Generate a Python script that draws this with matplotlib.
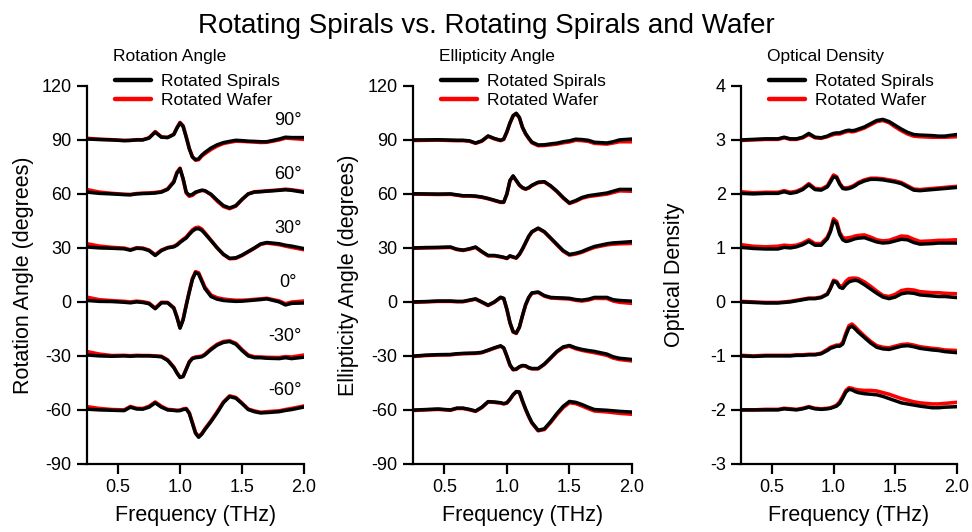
import numpy as np
import matplotlib.pyplot as plt

plt.rcParams['font.family'] = ['Liberation Sans', 'DejaVu Sans']
plt.rcParams['axes.unicode_minus'] = False

freq = [0.25, 0.35, 0.45, 0.55, 0.6, 0.65, 0.7, 0.75, 0.8, 0.85,
        0.9, 0.95, 0.975, 1.0, 1.025, 1.05, 1.075, 1.1, 1.125, 1.15,
        1.175, 1.2, 1.25, 1.3, 1.35, 1.4, 1.45, 1.5, 1.55, 1.6,
        1.65, 1.7, 1.8, 1.85, 1.9, 2.0]

# rotation angle (degrees), curves offset by the rotation
rot_90_spirals = [90.5, 90.2, 90.0, 89.6, 89.7, 90.0, 90.0, 91.0, 94.3, 91.5,
                  91.3, 93.0, 96.5, 99.4, 97.5, 91.5, 85.0, 80.5, 79.0, 79.5,
                  81.5, 83.0, 85.5, 87.3, 88.5, 89.2, 89.8, 89.6, 89.3, 89.2,
                  89.0, 89.0, 90.5, 91.5, 91.3, 91.3]
rot_90_wafer = [90.9, 90.4, 90.1, 89.7, 89.8, 90.1, 90.1, 91.2, 94.6, 91.7,
                91.4, 93.2, 96.8, 99.7, 97.8, 91.8, 85.3, 80.6, 78.8, 79.0,
                81.0, 82.3, 84.7, 86.6, 88.0, 88.7, 89.3, 89.2, 89.0, 88.8,
                88.6, 88.7, 90.0, 91.0, 90.8, 90.3]
rot_60_spirals = [61.0, 60.3, 60.0, 59.6, 59.5, 60.0, 60.2, 60.3, 60.5, 61.0,
                  62.5, 66.5, 71.5, 74.0, 68.5, 61.0, 59.2, 59.8, 61.0, 61.5,
                  62.0, 61.8, 59.8, 56.5, 53.5, 52.2, 53.5, 57.0, 60.0, 61.0,
                  61.2, 61.5, 62.0, 62.3, 62.0, 60.9]
rot_60_wafer = [62.4, 61.0, 60.3, 59.8, 59.7, 60.2, 60.4, 60.5, 60.8, 61.3,
                62.8, 67.0, 72.0, 74.3, 68.0, 60.5, 58.7, 59.2, 60.6, 61.4,
                62.0, 61.8, 59.5, 56.0, 53.0, 51.8, 53.2, 56.8, 60.0, 61.2,
                61.4, 61.7, 62.2, 62.6, 62.3, 61.3]
rot_30_spirals = [30.5, 30.0, 29.8, 29.5, 28.7, 29.8, 29.6, 28.5, 25.8, 28.5,
                  30.0, 30.6, 31.5, 33.0, 34.3, 35.5, 37.5, 39.3, 40.5, 40.7,
                  39.8, 38.0, 34.0, 30.0, 26.5, 24.2, 24.5, 26.0, 28.0, 30.0,
                  32.2, 33.0, 32.3, 31.5, 31.0, 29.6]
rot_30_wafer = [32.3, 31.0, 30.3, 29.9, 29.0, 30.1, 29.9, 28.8, 26.2, 28.8,
                30.2, 30.9, 31.9, 33.4, 34.8, 36.0, 38.1, 40.0, 41.2, 41.5,
                40.5, 38.5, 34.3, 30.0, 26.3, 24.0, 24.2, 25.8, 27.8, 29.8,
                32.0, 32.7, 31.8, 31.0, 30.3, 29.0]
rot_0_spirals = [0.8, 0.3, 0.2, -0.2, -0.5, 0.0, -0.3, -1.0, -3.8, -0.5,
                 -0.5, -3.5, -8.5, -14.6, -10.0, -2.0, 5.5, 12.5, 16.3, 15.5,
                 11.5, 7.5, 3.0, 1.5, 0.8, 0.5, 0.3, 0.4, 0.7, 1.0,
                 1.3, 1.7, 0.0, -1.7, -0.8, -0.6]
rot_0_wafer = [2.6, 1.2, 0.7, 0.3, 0.0, 0.4, 0.1, -0.6, -3.4, -0.2,
               -0.3, -3.2, -8.2, -14.2, -9.6, -1.6, 6.0, 13.0, 16.8, 16.2,
               12.3, 8.3, 3.8, 2.3, 1.6, 1.2, 0.9, 0.9, 1.1, 1.4,
               1.7, 2.0, 0.5, -1.0, -0.1, 0.5]
rot_m30_spirals = [-29.5, -30.0, -30.2, -30.0, -30.2, -30.0, -30.0, -30.0, -30.2, -30.5,
                   -32.5, -36.5, -39.5, -42.0, -41.5, -37.5, -33.5, -31.5, -31.0, -30.8,
                   -30.5, -29.5, -26.5, -24.0, -22.5, -22.0, -23.5, -27.0, -30.0, -31.0,
                   -31.0, -31.3, -31.5, -31.0, -31.5, -30.7]
rot_m30_wafer = [-27.6, -29.0, -29.8, -29.7, -29.9, -29.7, -29.8, -29.8, -30.0, -30.2,
                 -32.2, -36.2, -39.3, -41.8, -41.3, -37.2, -33.2, -31.2, -30.6, -30.4,
                 -30.1, -29.1, -26.0, -23.5, -22.0, -21.6, -23.0, -26.5, -29.5, -30.5,
                 -30.6, -30.8, -30.9, -30.4, -30.6, -29.5]
rot_m60_spirals = [-59.6, -60.0, -60.2, -60.4, -58.5, -59.5, -59.6, -58.5, -56.1, -58.5,
                   -60.0, -60.3, -60.5, -60.4, -59.8, -59.5, -62.0, -67.5, -73.0, -75.2,
                   -73.5, -71.0, -66.5, -61.5, -56.0, -52.6, -53.5, -56.5, -59.8, -61.0,
                   -61.7, -61.5, -61.0, -60.3, -59.8, -58.4]
rot_m60_wafer = [-58.2, -59.2, -59.8, -60.0, -58.1, -59.1, -59.2, -58.0, -55.6, -58.0,
                 -59.7, -60.0, -60.2, -60.1, -59.5, -59.2, -61.6, -67.0, -72.5, -74.8,
                 -73.2, -70.6, -66.0, -61.0, -55.6, -52.2, -53.1, -56.2, -59.5, -60.6,
                 -61.3, -61.0, -60.5, -59.8, -59.2, -57.8]

# ellipticity angle (degrees)
ell_90_spirals = [90.0, 90.0, 90.1, 89.9, 89.8, 89.8, 89.5, 88.3, 89.5, 92.2,
                  90.8, 89.8, 90.5, 94.5, 99.5, 103.5, 104.8, 102.5, 97.0, 93.5,
                  91.0, 88.8, 87.2, 87.3, 87.8, 88.2, 89.0, 89.5, 90.4, 90.2,
                  89.8, 88.7, 88.3, 89.0, 90.0, 90.5]
ell_90_wafer = [89.7, 89.8, 89.9, 89.7, 89.6, 89.6, 89.3, 88.1, 89.3, 92.0,
                90.6, 89.6, 90.3, 94.3, 99.3, 103.3, 104.6, 102.3, 96.8, 93.3,
                90.7, 88.4, 86.8, 86.9, 87.3, 87.7, 88.4, 88.9, 89.8, 89.6,
                89.2, 88.1, 87.7, 88.3, 89.0, 89.0]
ell_60_spirals = [60.1, 60.0, 59.9, 60.0, 59.5, 59.0, 59.0, 58.8, 58.3, 57.5,
                  56.5, 55.5, 55.5, 60.0, 67.5, 70.0, 67.5, 65.0, 63.5, 62.8,
                  63.5, 64.8, 66.5, 66.8, 64.5, 61.5, 58.0, 55.0, 56.3, 58.0,
                  59.0, 59.5, 60.5, 61.5, 62.5, 62.5]
ell_60_wafer = [59.9, 59.8, 59.7, 59.8, 59.3, 58.8, 58.8, 58.6, 58.1, 57.3,
                56.3, 55.3, 55.3, 59.8, 67.3, 69.8, 67.3, 64.8, 63.3, 62.6,
                63.3, 64.6, 66.3, 66.6, 64.3, 61.3, 57.7, 54.7, 55.9, 57.6,
                58.5, 59.0, 59.9, 60.8, 61.7, 61.5]
ell_30_spirals = [30.0, 30.2, 30.3, 30.5, 29.3, 28.8, 29.5, 30.5, 28.0, 25.8,
                  25.8, 25.2, 24.8, 24.3, 25.6, 25.0, 24.5, 26.5, 29.5, 33.0,
                  36.5, 39.0, 41.0, 39.0, 35.5, 32.0, 28.5, 26.4, 27.0, 28.0,
                  29.5, 30.8, 32.3, 32.8, 33.0, 33.5]
ell_30_wafer = [29.8, 30.0, 30.1, 30.3, 29.1, 28.6, 29.3, 30.3, 27.8, 25.6,
                25.6, 25.0, 24.6, 24.1, 25.4, 24.8, 24.3, 26.3, 29.3, 32.8,
                36.3, 38.8, 40.8, 38.8, 35.3, 31.7, 28.2, 26.0, 26.6, 27.6,
                29.0, 30.3, 31.7, 32.1, 32.3, 32.5]
ell_0_spirals = [0.0, 0.2, 0.5, 0.5, 0.3, 0.3, 1.0, 1.7, 0.0, -1.8,
                 0.0, 2.6, 2.0, -4.0, -11.5, -16.5, -17.3, -14.0, -7.5, -1.5,
                 2.5, 5.0, 5.5, 3.5, 2.5, 2.3, 2.2, 2.0, 1.3, 1.0,
                 1.5, 2.5, 2.5, 1.2, 0.8, 0.4]
ell_0_wafer = [-0.2, 0.0, 0.3, 0.3, 0.1, 0.1, 0.8, 1.5, -0.2, -2.0,
               -0.2, 2.4, 1.8, -4.2, -11.7, -16.7, -17.5, -14.2, -7.7, -1.7,
               2.3, 4.8, 5.3, 3.2, 2.2, 2.0, 1.8, 1.6, 0.9, 0.5,
               1.0, 2.0, 1.9, 0.5, -0.2, -0.8]
ell_m30_spirals = [-30.1, -29.6, -29.3, -29.2, -28.8, -28.6, -28.5, -28.4, -28.0, -26.8,
                   -25.5, -24.4, -25.5, -30.0, -35.0, -37.5, -37.3, -36.0, -35.3, -35.5,
                   -36.5, -37.0, -37.0, -34.5, -31.0, -27.5, -25.0, -24.2, -25.5, -26.4,
                   -27.0, -27.5, -29.0, -30.5, -31.3, -32.0]
ell_m30_wafer = [-30.3, -29.8, -29.5, -29.4, -29.0, -28.8, -28.7, -28.6, -28.2, -27.0,
                 -25.7, -24.6, -25.7, -30.2, -35.2, -37.7, -37.5, -36.2, -35.5, -35.7,
                 -36.7, -37.2, -37.2, -34.7, -31.3, -27.8, -25.4, -24.6, -26.0, -26.9,
                 -27.6, -28.2, -29.7, -31.2, -32.0, -32.8]
ell_m60_spirals = [-60.1, -59.8, -59.5, -60.0, -59.0, -59.0, -59.7, -60.6, -58.5, -55.4,
                   -55.6, -56.0, -56.5, -56.0, -54.0, -51.5, -49.8, -50.0, -55.0, -59.5,
                   -63.5, -67.0, -71.3, -70.5, -66.5, -62.0, -58.0, -55.3, -55.8, -57.0,
                   -58.5, -59.8, -60.2, -60.5, -60.8, -61.2]
ell_m60_wafer = [-60.3, -60.0, -59.7, -60.2, -59.2, -59.2, -59.9, -60.8, -58.7, -55.6,
                 -55.8, -56.2, -56.7, -56.2, -54.2, -51.7, -50.0, -50.3, -55.3, -59.8,
                 -63.8, -67.3, -71.6, -70.9, -67.0, -62.6, -58.7, -56.0, -56.5, -57.8,
                 -59.3, -60.6, -61.1, -61.5, -61.9, -62.4]

# optical density
od_3_spirals = [3.00, 3.01, 3.02, 3.02, 3.05, 3.02, 3.02, 3.05, 3.12, 3.05,
                3.04, 3.07, 3.10, 3.12, 3.13, 3.13, 3.15, 3.17, 3.18, 3.17,
                3.18, 3.20, 3.24, 3.30, 3.36, 3.38, 3.34, 3.27, 3.20, 3.14,
                3.10, 3.09, 3.08, 3.07, 3.07, 3.10]
od_3_wafer = [2.99, 3.00, 3.01, 3.01, 3.04, 3.01, 3.01, 3.04, 3.10, 3.04,
              3.03, 3.06, 3.08, 3.10, 3.11, 3.11, 3.13, 3.15, 3.16, 3.15,
              3.16, 3.18, 3.22, 3.28, 3.34, 3.36, 3.32, 3.24, 3.17, 3.11,
              3.07, 3.06, 3.05, 3.05, 3.05, 3.06]
od_2_spirals = [2.01, 2.00, 2.01, 2.01, 2.04, 2.01, 2.03, 2.08, 2.17, 2.08,
                2.07, 2.13, 2.22, 2.32, 2.30, 2.18, 2.10, 2.09, 2.10, 2.12,
                2.15, 2.19, 2.24, 2.27, 2.27, 2.26, 2.24, 2.22, 2.19, 2.13,
                2.07, 2.06, 2.08, 2.09, 2.10, 2.12]
od_2_wafer = [2.04, 2.02, 2.03, 2.03, 2.06, 2.03, 2.05, 2.10, 2.19, 2.10,
              2.09, 2.15, 2.25, 2.35, 2.32, 2.20, 2.12, 2.11, 2.12, 2.14,
              2.17, 2.21, 2.26, 2.29, 2.29, 2.28, 2.26, 2.24, 2.21, 2.15,
              2.09, 2.08, 2.10, 2.11, 2.12, 2.14]
od_1_spirals = [1.01, 0.99, 0.98, 0.98, 1.01, 1.00, 1.02, 1.06, 1.12, 1.05,
                1.05, 1.17, 1.30, 1.50, 1.45, 1.25, 1.15, 1.12, 1.13, 1.15,
                1.17, 1.18, 1.19, 1.15, 1.11, 1.09, 1.10, 1.13, 1.16, 1.15,
                1.10, 1.07, 1.08, 1.09, 1.09, 1.09]
od_1_wafer = [1.06, 1.03, 1.02, 1.03, 1.05, 1.04, 1.05, 1.09, 1.15, 1.08,
              1.08, 1.20, 1.33, 1.54, 1.49, 1.29, 1.19, 1.18, 1.19, 1.20,
              1.22, 1.23, 1.24, 1.20, 1.15, 1.13, 1.14, 1.18, 1.22, 1.21,
              1.16, 1.12, 1.13, 1.14, 1.14, 1.15]
od_0_spirals = [0.00, -0.01, -0.02, -0.02, -0.01, 0.00, 0.02, 0.04, 0.06, 0.06,
                0.08, 0.14, 0.25, 0.38, 0.36, 0.27, 0.25, 0.32, 0.37, 0.39,
                0.40, 0.39, 0.32, 0.24, 0.16, 0.09, 0.06, 0.09, 0.15, 0.17,
                0.16, 0.13, 0.11, 0.10, 0.10, 0.08]
od_0_wafer = [0.01, 0.00, -0.01, -0.01, 0.00, 0.01, 0.03, 0.05, 0.07, 0.07,
              0.09, 0.15, 0.26, 0.40, 0.38, 0.29, 0.30, 0.38, 0.43, 0.44,
              0.44, 0.43, 0.37, 0.29, 0.20, 0.12, 0.10, 0.14, 0.21, 0.23,
              0.22, 0.19, 0.17, 0.17, 0.16, 0.15]
od_m1_spirals = [-1.00, -1.01, -1.00, -1.00, -1.00, -1.00, -0.99, -0.99, -0.98, -0.98,
                 -0.96, -0.90, -0.86, -0.84, -0.82, -0.82, -0.78, -0.62, -0.48, -0.45,
                 -0.50, -0.56, -0.66, -0.76, -0.84, -0.87, -0.88, -0.85, -0.82, -0.81,
                 -0.83, -0.86, -0.89, -0.90, -0.92, -0.94]
od_m1_wafer = [-0.99, -1.00, -0.99, -0.99, -0.99, -0.99, -0.98, -0.98, -0.97, -0.97,
               -0.95, -0.88, -0.84, -0.82, -0.80, -0.80, -0.75, -0.58, -0.44, -0.41,
               -0.46, -0.52, -0.63, -0.73, -0.81, -0.84, -0.85, -0.82, -0.79, -0.78,
               -0.80, -0.83, -0.86, -0.87, -0.89, -0.90]
od_m2_spirals = [-2.00, -2.00, -2.00, -2.00, -1.98, -1.99, -2.00, -1.98, -1.95, -1.98,
                 -1.99, -1.98, -1.97, -1.95, -1.93, -1.88, -1.78, -1.67, -1.62, -1.63,
                 -1.66, -1.68, -1.70, -1.71, -1.72, -1.75, -1.79, -1.83, -1.87, -1.89,
                 -1.91, -1.93, -1.96, -1.96, -1.95, -1.94]
od_m2_wafer = [-2.00, -2.00, -1.99, -1.99, -1.97, -1.98, -1.99, -1.97, -1.94, -1.97,
               -1.98, -1.97, -1.96, -1.94, -1.91, -1.85, -1.75, -1.64, -1.59, -1.60,
               -1.62, -1.63, -1.64, -1.64, -1.65, -1.68, -1.71, -1.75, -1.79, -1.82,
               -1.85, -1.87, -1.89, -1.89, -1.88, -1.86]

rot_offsets = [90, 60, 30, 0, -30, -60]

rot_spirals = [rot_90_spirals, rot_60_spirals, rot_30_spirals, rot_0_spirals, rot_m30_spirals, rot_m60_spirals]
rot_wafer = [rot_90_wafer, rot_60_wafer, rot_30_wafer, rot_0_wafer, rot_m30_wafer, rot_m60_wafer]
ell_spirals = [ell_90_spirals, ell_60_spirals, ell_30_spirals, ell_0_spirals, ell_m30_spirals, ell_m60_spirals]
ell_wafer = [ell_90_wafer, ell_60_wafer, ell_30_wafer, ell_0_wafer, ell_m30_wafer, ell_m60_wafer]
od_spirals = [od_3_spirals, od_2_spirals, od_1_spirals, od_0_spirals, od_m1_spirals, od_m2_spirals]
od_wafer = [od_3_wafer, od_2_wafer, od_1_wafer, od_0_wafer, od_m1_wafer, od_m2_wafer]


fig = plt.figure(figsize=(9.72, 5.32), dpi=100)
fig.text(0.5, 0.938, "Rotating Spirals vs. Rotating Spirals and Wafer",
         ha="center", va="baseline", fontsize=20)

panels = [
    ([0.0895, 0.128, 0.2233, 0.7105], "Rotation Angle", "Rotation Angle (degrees)",
     rot_spirals, rot_wafer, (-90, 120), np.arange(-90, 121, 30), -0.245),
    ([0.4249, 0.128, 0.2253, 0.7105], "Ellipticity Angle", "Ellipticity Angle (degrees)",
     ell_spirals, ell_wafer, (-90, 120), np.arange(-90, 121, 30), -0.247),
    ([0.7623, 0.128, 0.2222, 0.7105], "Optical Density", "Optical Density",
     od_spirals, od_wafer, (-3, 4), np.arange(-3, 5, 1), -0.26),
]

axes = []
for rect, title, ylabel, sp_list, wf_list, ylim, yt, ylab_x in panels:
    ax = fig.add_axes(rect)
    for sp, wf in zip(sp_list, wf_list):
        h_wf, = ax.plot(freq, wf, color="red", lw=2.6, solid_capstyle="round")
        h_sp, = ax.plot(freq, sp, color="black", lw=2.5, solid_capstyle="round")
    ax.set_xlim(0.25, 2.0)
    ax.set_ylim(*ylim)
    ax.set_yticks(yt)
    ax.set_xticks([0.5, 1.0, 1.5, 2.0])
    ax.set_xticklabels(["0.5", "1.0", "1.5", "2.0"])
    for s in ["top", "right"]:
        ax.spines[s].set_visible(False)
    for s in ["left", "bottom"]:
        ax.spines[s].set_linewidth(1.6)
    ax.tick_params(direction="out", length=7, width=1.6, labelsize=13, pad=4)
    ax.set_xlabel("Frequency (THz)", fontsize=15.5, labelpad=6)
    ax.set_ylabel(ylabel, fontsize=15.5)
    ax.yaxis.set_label_coords(ylab_x, 0.5)
    ax.text(0.12, 1.066, title, transform=ax.transAxes, fontsize=12.5,
            va="baseline", ha="left")
    leg = ax.legend([h_sp, h_wf], ["Rotated Spirals", "Rotated Wafer"],
                    loc="upper left", bbox_to_anchor=(0.13, 1.032), frameon=False,
                    fontsize=12.5, handlelength=2.05, handletextpad=0.6,
                    labelspacing=0.2, borderpad=0, borderaxespad=0)
    for ln in leg.get_lines():
        ln.set_linewidth(3.2)
    axes.append(ax)

# rotation labels on the first panel
for off in rot_offsets:
    xpos = 1.94 if off == 0 else 1.98
    axes[0].text(xpos, off + 11, f"{off}°", ha="right", va="center", fontsize=13)

fig.savefig("out.png", dpi=100)
